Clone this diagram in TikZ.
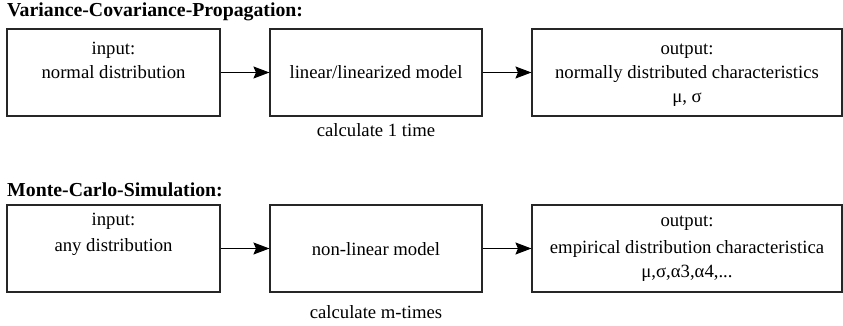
\documentclass[tikz,border=0pt]{standalone}
\usepackage{fontspec}
\setmainfont{Liberation Serif}
\usetikzlibrary{arrows.meta}
\tikzset{
  box/.style={draw=black!85, line width=1.1pt, rectangle, inner sep=0pt},
  txt/.style={anchor=base, inner sep=0pt, font=\fontsize{18.7}{22}\selectfont},
  ttl/.style={anchor=base west, inner sep=0pt, font=\fontsize{19.8}{23}\selectfont\bfseries},
  conn/.style={line width=1.1pt, -{Stealth[length=16pt,width=12pt,inset=2.5pt]}}
}
\begin{document}
\begin{tikzpicture}[x=1pt,y=-1pt]
\useasboundingbox (0,0) rectangle (843,326);
% row 1
\node[ttl] (t1) at (7,17) {Variance-Covariance-Propagation:};
\node[box, minimum width=213pt, minimum height=87pt] (a1) at (113.5,72.5) {};
\node[box, minimum width=212pt, minimum height=87pt] (a2) at (376,72.5) {};
\node[box, minimum width=310pt, minimum height=87pt] (a3) at (687,72.5) {};
\node[txt] (a1l1) at (113.5,55) {input:};
\node[txt] (a1l2) at (113.5,79) {normal distribution};
\node[txt] (a2l1) at (376,79) {linear/linearized model};
\node[txt] (a3l1) at (687,55) {output:};
\node[txt] (a3l2) at (687,79) {normally distributed characteristics};
\node[txt] (a3l3) at (687,103) {μ, σ};
\node[txt] (c1) at (376,137) {calculate 1 time};
\draw[conn] (a1) -- (a2);
\draw[conn] (a2) -- (a3);
% row 2
\node[ttl] (t2) at (7,196) {Monte-Carlo-Simulation:};
\node[box, minimum width=213pt, minimum height=87pt] (b1) at (113.5,248.5) {};
\node[box, minimum width=212pt, minimum height=87pt] (b2) at (376,248.5) {};
\node[box, minimum width=310pt, minimum height=87pt] (b3) at (687,248.5) {};
\node[txt] (b1l1) at (113.5,225) {input:};
\node[txt] (b1l2) at (113.5,251.5) {any distribution};
\node[txt] (b2l1) at (376,255) {non-linear model};
\node[txt] (b3l1) at (687,226.5) {output:};
\node[txt] (b3l2) at (687,253) {empirical distribution characteristica};
\node[txt] (b3l3) at (687,277) {μ,σ,α3,α4,...};
\node[txt] (c2) at (376,318) {calculate m-times};
\draw[conn] (b1) -- (b2);
\draw[conn] (b2) -- (b3);
\end{tikzpicture}
\end{document}
